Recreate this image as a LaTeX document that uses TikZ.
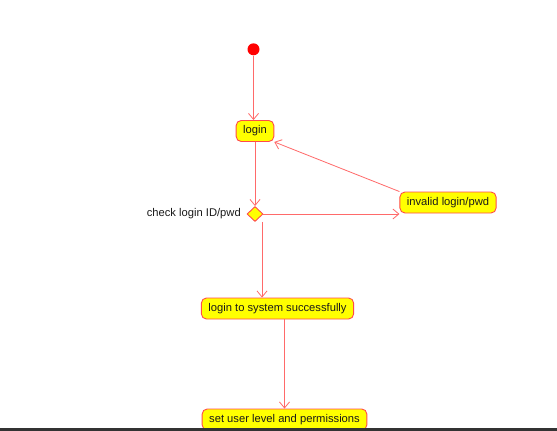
\documentclass[tikz,border=0pt]{standalone}
\usepackage{fontspec}
\setmainfont{Liberation Sans}
\usetikzlibrary{arrows.meta,shapes.geometric}
\definecolor{boxline}{HTML}{FF4A4A}
\definecolor{conline}{HTML}{FF6A6A}
\definecolor{boxfill}{HTML}{FFFF00}
\definecolor{txt}{HTML}{1A1A1A}
\definecolor{bar}{HTML}{333333}
\tikzset{
  act/.style={draw=boxline, line width=0.9pt, fill=boxfill, rounded corners=5pt,
    minimum height=21pt, inner xsep=7pt, inner ysep=0pt, text=txt,
    font=\fontsize{11.2}{13}\selectfont},
  decis/.style={diamond, draw=boxline, line width=0.9pt, fill=boxfill,
    minimum width=16pt, minimum height=15pt, inner sep=0pt},
  conn/.style={draw=conline, line width=0.8pt,
    -{Straight Barb[length=6pt,width=10pt,line width=0.8pt]}},
  lbl/.style={text=txt, font=\fontsize{11.2}{13}\selectfont, inner sep=0pt}
}
\begin{document}
\begin{tikzpicture}[x=1pt,y=1pt]
\useasboundingbox (0,0) rectangle (557,-431);
\fill[white] (0,0) rectangle (557,-431);
\node[circle, fill=red, minimum size=12pt, inner sep=0pt] (start) at (253.5,-49.3) {};
\node[act] (login) at (255,-131) {login};
\node[decis] (dec) at (255,-214) {};
\node[lbl, anchor=east] (declbl) at (241,-213.5) {check login ID/pwd};
\node[act] (inv) at (448,-202.5) {invalid login/pwd};
\node[act] (succ) at (277.5,-308.5) {login to system successfully};
\node[act] (fin) at (284.5,-419.5) {set user level and permissions};
\draw[conn] (start) -- (start |- login.north);
\draw[conn] (login.south) -- (dec.north);
\draw[conn] (dec.east) -- (dec.east -| inv.west);
\draw[conn] (inv.north west) -- (login.south east);
\draw[conn] ([xshift=7pt]dec.south) -- ([xshift=7pt]dec.south |- succ.north);
\draw[conn] (fin.north |- succ.south) -- (fin.north);
\fill[bar] (0,-427.5) rectangle (557,-431);
\end{tikzpicture}
\end{document}
